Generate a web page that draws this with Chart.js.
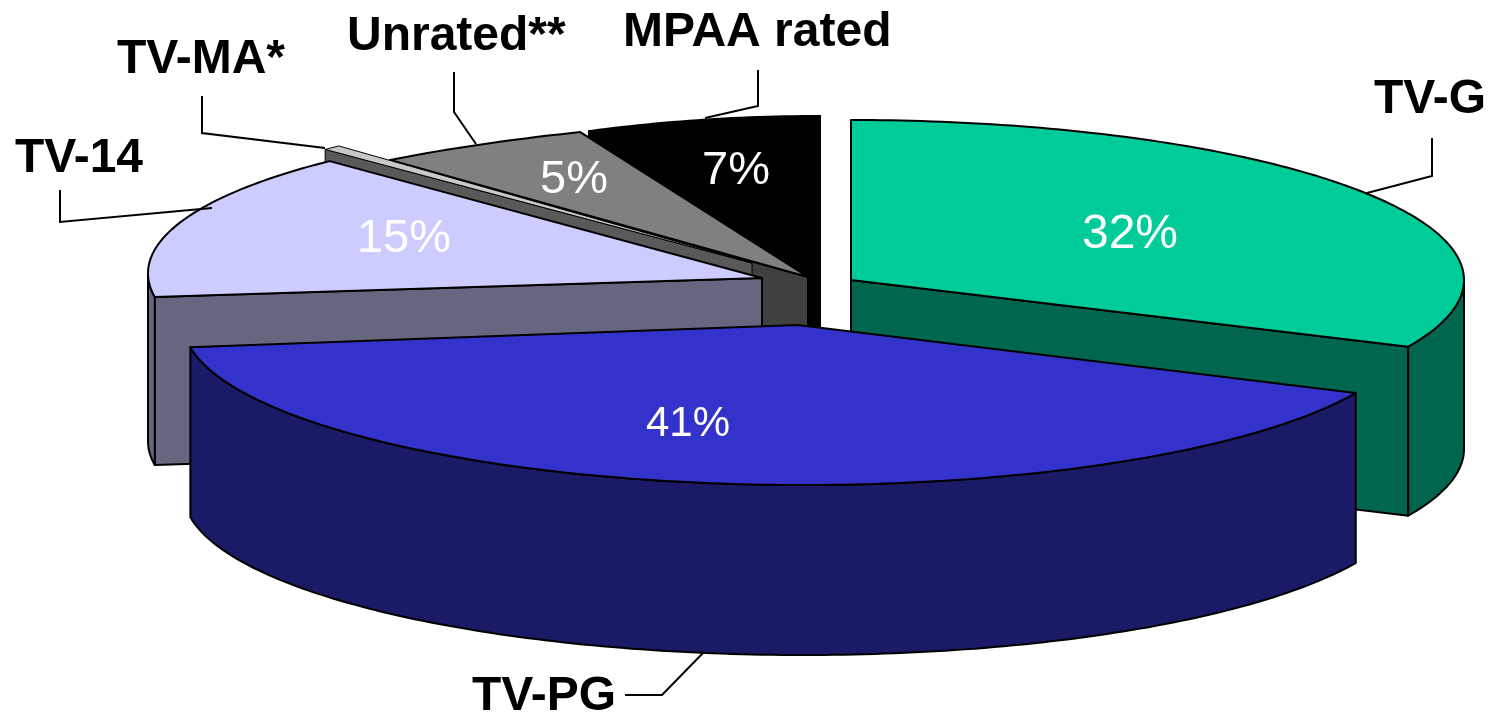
<!DOCTYPE html>
<html>
<head>
<meta charset="utf-8">
<style>html,body{margin:0;padding:0;background:#fff}canvas{display:block}</style>
<script src="https://cdn.jsdelivr.net/npm/chart.js@4"></script>
</head>
<body>
<canvas id="c" width="1492" height="714"></canvas>
<script>
const categories = ['TV-G', 'TV-PG', 'TV-14', 'TV-MA*', 'Unrated**', 'MPAA rated'];
const shares = [32, 41, 15, 0.5, 5, 7];
const shareLabels = ['32%', '41%', '15%', '', '5%', '7%'];
const topColors = ['#00CC99', '#3333CC', '#CCCCFF', '#C8C8C8', '#808080', '#000000'];
const wallColors = ['#00664D', '#1A1A66', '#666680', '#595959', '#404040', '#000000'];

// Projection of each exploded slice onto the page (3-D look), by category index
const projection = [
  {x: 851,   y: 280, rx: 613,   ry: 160, shear: 0,   tilt: 0,   depth: 169},
  {x: 797.6, y: 325, rx: 614,   ry: 160, shear: 0,   tilt: 1.5, depth: 170},
  {x: 762,   y: 278, rx: 614,   ry: 160, shear: 0,   tilt: 4.7, depth: 168},
  {x: 752,   y: 263, rx: 606,   ry: 160, shear: 0,   tilt: 0,   depth: 170},
  {x: 808,   y: 277, rx: 689,   ry: 160, shear: -71, tilt: 0,   depth: 170},
  {x: 808,   y: 277, rx: 542.5, ry: 161, shear: -12, tilt: 0,   depth: 215}
];
const drawOrder = [5, 4, 3, 2, 0, 1];
const nameAnchors = [[1374, 113], [472, 710], [15, 172], [117, 73], [347, 50], [623, 46]];
const shareAnchors = [[1130, 248], [688, 436], [404, 252], [574, 193], [736, 184]];
const shareSizes = [48, 42, 47, 47, 47];
const shareIndex = [0, 1, 2, 4, 5];
const leaders = [
  [[1432, 138], [1432, 176], [1367, 193]],
  [[625, 695], [662, 695], [704, 652]],
  [[60, 190], [60, 222], [212, 208]],
  [[202, 96], [202, 133], [325, 148]],
  [[454, 72], [454, 112], [476, 144]],
  [[758, 70], [758, 106], [705, 118]]
];

function pt(s, a, dz) {
  return {
    x: s.x + s.rx * Math.cos(a) + s.shear * Math.sin(a),
    y: s.y + s.tilt * Math.cos(a) + s.ry * Math.sin(a) + (dz || 0)
  };
}
function poly(ctx, pts, fill, lw) {
  ctx.beginPath();
  pts.forEach((p, i) => i ? ctx.lineTo(p.x, p.y) : ctx.moveTo(p.x, p.y));
  ctx.closePath();
  if (fill) { ctx.fillStyle = fill; ctx.fill(); }
  ctx.lineWidth = lw;
  ctx.strokeStyle = '#000';
  ctx.stroke();
}
function arcPts(s, a0, a1, dz) {
  const n = Math.max(2, Math.ceil(Math.abs(a1 - a0) * 60));
  const out = [];
  for (let i = 0; i <= n; i++) out.push(pt(s, a0 + (a1 - a0) * i / n, dz));
  return out;
}
function face(ctx, s, a, color, lw) {
  const c = {x: s.x, y: s.y};
  const e = pt(s, a);
  poly(ctx, [c, e, {x: e.x, y: e.y + s.depth}, {x: c.x, y: c.y + s.depth}], color, lw);
}

const pie3d = {
  id: 'pie3d',
  beforeDatasetsDraw(chart) {
    const ctx = chart.ctx;
    const arcs = chart.getDatasetMeta(0).data;
    ctx.save();
    ctx.lineJoin = 'round';
    drawOrder.forEach(i => {
      const el = arcs[i], s = projection[i];
      const a0 = el.startAngle, a1 = el.endAngle;
      const lw = i === 3 ? 1 : 2;
      // radial faces turned toward the viewer
      if (Math.cos(a1) > -1e-6) face(ctx, s, a1, wallColors[i], lw);
      if (Math.cos(a0) < -1e-6) face(ctx, s, a0, wallColors[i], lw);
      // outer wall (front half of the rim only)
      const w0 = Math.max(a0, 0), w1 = Math.min(a1, Math.PI);
      if (w1 > w0) {
        const top = arcPts(s, w0, w1, 0);
        const bot = arcPts(s, w1, w0, s.depth);
        poly(ctx, top.concat(bot), wallColors[i], lw);
      }
      // top surface: the library's own arc element under the projection
      const R = el.outerRadius;
      ctx.save();
      ctx.transform(s.rx / R, s.tilt / R, s.shear / R, s.ry / R, s.x, s.y);
      ctx.translate(-el.x, -el.y);
      el.draw(ctx);
      ctx.restore();
      poly(ctx, [{x: s.x, y: s.y}].concat(arcPts(s, a0, a1, 0)), null, lw);
    });
    ctx.restore();
    return false;
  },
  afterDraw(chart) {
    const ctx = chart.ctx;
    ctx.save();
    ctx.strokeStyle = '#000';
    ctx.lineWidth = 2;
    leaders.forEach(l => {
      ctx.beginPath();
      l.forEach((p, i) => i ? ctx.lineTo(p[0], p[1]) : ctx.moveTo(p[0], p[1]));
      ctx.stroke();
    });
    ctx.textBaseline = 'alphabetic';
    ctx.textAlign = 'left';
    ctx.fillStyle = '#000';
    ctx.font = 'bold 48px "Liberation Sans", Arial, sans-serif';
    categories.forEach((name, i) => ctx.fillText(name, nameAnchors[i][0], nameAnchors[i][1]));
    ctx.textAlign = 'center';
    ctx.fillStyle = '#fff';
    shareIndex.forEach((k, j) => {
      ctx.font = shareSizes[j] + 'px "Liberation Sans", Arial, sans-serif';
      ctx.fillText(shareLabels[k], shareAnchors[j][0], shareAnchors[j][1]);
    });
    ctx.restore();
  }
};

new Chart(document.getElementById('c'), {
  type: 'pie',
  data: {
    labels: categories,
    datasets: [{data: shares, backgroundColor: topColors, borderWidth: 0}]
  },
  options: {
    responsive: false,
    animation: false,
    layout: {padding: 0},
    plugins: {legend: {display: false}, tooltip: {enabled: false}}
  },
  plugins: [pie3d]
});
</script>
</body>
</html>
